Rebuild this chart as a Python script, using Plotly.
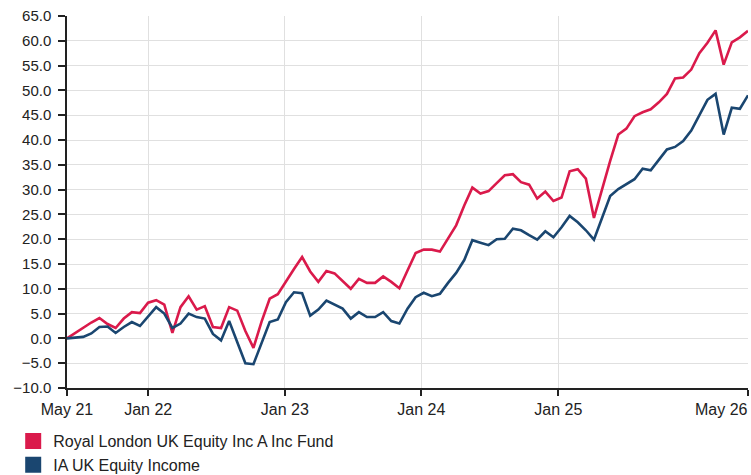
import pandas as pd
import plotly.graph_objects as go

START = "2021-05-29"
END = "2026-05-23"
N_POINTS = 85

fund_name = "Royal London UK Equity Inc A Inc Fund"
sector_name = "IA UK Equity Income"

fund_values = [
    0.0, 1.1, 2.2, 3.2, 4.1, 2.9, 2.1, 4.0, 5.3, 5.1,
    7.2, 7.7, 6.8, 1.1, 6.3, 8.5, 5.8, 6.5, 2.3, 2.1,
    6.3, 5.6, 1.5, -1.9, 3.4, 8.0, 8.9, 11.5, 14.0, 16.4,
    13.5, 11.4, 13.6, 13.1, 11.6, 10.0, 12.0, 11.2, 11.2, 12.5,
    11.4, 10.1, 13.7, 17.2, 17.9, 17.9, 17.5, 20.1, 22.8, 26.8,
    30.4, 29.2, 29.7, 31.3, 32.9, 33.1, 31.5, 31.0, 28.2, 29.6,
    27.7, 28.4, 33.7, 34.1, 32.2, 24.3, 30.3, 35.8, 41.1, 42.3,
    44.8, 45.6, 46.2, 47.6, 49.3, 52.4, 52.6, 54.2, 57.5, 59.6,
    62.1, 55.2, 59.7, 60.7, 62.0,
]

sector_values = [
    0.0, 0.1, 0.3, 1.0, 2.3, 2.4, 1.1, 2.3, 3.3, 2.5,
    4.5, 6.3, 5.0, 2.1, 3.0, 5.0, 4.3, 4.0, 0.9, -0.4,
    3.5, -0.7, -5.0, -5.2, -1.0, 3.3, 3.8, 7.3, 9.3, 9.1,
    4.6, 5.8, 7.6, 6.8, 6.0, 4.0, 5.3, 4.3, 4.3, 5.3,
    3.5, 3.0, 6.0, 8.3, 9.2, 8.5, 9.0, 11.2, 13.2, 15.8,
    19.8, 19.3, 18.8, 20.0, 20.1, 22.1, 21.8, 20.8, 19.9, 21.6,
    20.4, 22.4, 24.7, 23.4, 21.8, 19.9, 24.5, 28.7, 30.1, 31.1,
    32.1, 34.2, 33.9, 36.0, 38.1, 38.6, 39.8, 41.9, 45.0, 48.1,
    49.3, 41.1, 46.5, 46.3, 49.0,
]

tick_dates = [START, "2022-01-01", "2023-01-01", "2024-01-01", "2025-01-01", END]
tick_labels = ["May 21", "Jan 22", "Jan 23", "Jan 24", "Jan 25", ""]
end_label = "May 26"

dates = pd.date_range(START, END, periods=N_POINTS)

RED = "#da1a4b"
NAVY = "#1a4670"
FONT = "Liberation Sans, Arial, sans-serif"
TXT = "#222222"

fig = go.Figure()
fig.add_trace(go.Scatter(x=dates, y=fund_values, mode="lines",
                         line=dict(color=RED, width=2.6), showlegend=False))
fig.add_trace(go.Scatter(x=dates, y=sector_values, mode="lines",
                         line=dict(color=NAVY, width=2.6), showlegend=False))
# legend entries as squares
fig.add_trace(go.Scatter(x=[None], y=[None], mode="markers", name=fund_name,
                         marker=dict(symbol="square", size=16, color=RED)))
fig.add_trace(go.Scatter(x=[None], y=[None], mode="markers", name=sector_name,
                         marker=dict(symbol="square", size=16, color=NAVY)))

fig.add_annotation(x=END, y=0, xref="x", yref="paper", text=end_label,
                   showarrow=False, xanchor="right", yanchor="top", yshift=-11,
                   xshift=2, font=dict(family=FONT, size=16, color=TXT))

fig.update_layout(
    width=751, height=475,
    margin=dict(l=67, r=3, t=16, b=87, autoexpand=False),
    paper_bgcolor="white", plot_bgcolor="white",
    font=dict(family=FONT, size=16, color=TXT),
    legend=dict(x=-0.079, y=-0.097, xanchor="left", yanchor="top",
                orientation="v", font=dict(size=16), tracegroupgap=0,
                itemclick=False),
    xaxis=dict(type="date", range=[START, END], tickmode="array",
               tickvals=tick_dates, ticktext=tick_labels,
               showgrid=True, gridcolor="#e0e0e0", gridwidth=1,
               showline=True, linecolor=TXT, linewidth=1.5,
               ticks="outside", ticklen=6, tickcolor=TXT, tickwidth=1.5,
               tickfont=dict(size=16), zeroline=False),
    yaxis=dict(range=[-10, 65], dtick=5, tick0=0, tickformat=".1f",
               showgrid=True, gridcolor="#e0e0e0", gridwidth=1,
               showline=True, linecolor=TXT, linewidth=1.5,
               ticks="outside", ticklen=7, tickcolor=TXT, tickwidth=1.5,
               ticklabelstandoff=4,
               tickfont=dict(size=15), zeroline=False),
)

fig.write_html("out.html", config={"displayModeBar": False},
               post_script="document.body.style.margin='0';")
